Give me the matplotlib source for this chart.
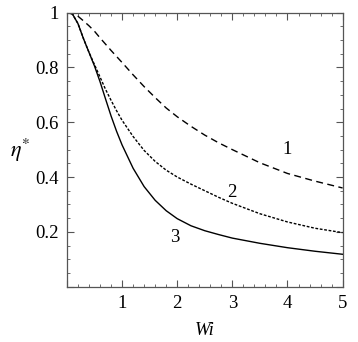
import numpy as np
import matplotlib
matplotlib.use("Agg")
from matplotlib import pyplot as plt
from matplotlib.ticker import MultipleLocator, FuncFormatter

plt.rcParams['font.family'] = ['Liberation Serif', 'DejaVu Serif']
plt.rcParams['mathtext.fontset'] = 'stix'

# values
wi = [0, 0.1, 0.2, 0.3, 0.4, 0.5, 0.6, 0.7, 0.8, 0.9, 1.0, 1.2, 1.4, 1.6, 1.8,
      2.0, 2.25, 2.5, 2.75, 3.0, 3.5, 4.0, 4.5, 5.0]
eta1 = [1.0, 0.997, 0.987, 0.97, 0.952, 0.932, 0.908, 0.885, 0.862, 0.84, 0.818,
        0.773, 0.73, 0.69, 0.652, 0.62, 0.585, 0.553, 0.525, 0.5, 0.452, 0.413, 0.385, 0.36]
eta2 = [1.0, 0.995, 0.96, 0.905, 0.855, 0.81, 0.765, 0.72, 0.68, 0.642, 0.607,
        0.548, 0.497, 0.457, 0.425, 0.40, 0.374, 0.35, 0.326, 0.304, 0.266, 0.236, 0.213, 0.197]
eta3 = [1.0, 0.995, 0.96, 0.905, 0.855, 0.805, 0.748, 0.685, 0.623, 0.567, 0.517,
        0.432, 0.365, 0.315, 0.277, 0.248, 0.222, 0.204, 0.19, 0.177, 0.158, 0.142, 0.129, 0.118]
curve_labels = ['1', '2', '3']
label_pos = [(3.99, 0.50), (2.99, 0.342), (1.96, 0.178)]

fig = plt.figure(figsize=(3.58, 3.42), dpi=100)
ax = fig.add_axes([0.187, 0.162, 0.770, 0.801])

ax.plot(wi, eta1, color='black', lw=1.0, dashes=(5, 3.2))
ax.plot(wi, eta2, color='black', lw=1.0, dashes=(2, 1.2))
ax.plot(wi, eta3, color='black', lw=1.0)

for lab, (x, y) in zip(curve_labels, label_pos):
    ax.text(x, y, lab, fontsize=13.5, ha='center', va='center')

ax.set_xlim(0, 5)
ax.set_ylim(0, 1)
ax.xaxis.set_major_locator(MultipleLocator(1))
ax.xaxis.set_minor_locator(MultipleLocator(0.2))
ax.yaxis.set_major_locator(MultipleLocator(0.2))
ax.yaxis.set_minor_locator(MultipleLocator(0.05))
ax.xaxis.set_major_formatter(FuncFormatter(lambda v, p: '' if v == 0 else '%g' % v))
ax.yaxis.set_major_formatter(FuncFormatter(lambda v, p: '' if v == 0 else '%g' % v))
ax.tick_params(which='both', direction='in', top=True, right=True, color='#555555',
               labelsize=13.5, pad=6)
ax.tick_params(which='major', length=5, width=0.8)
ax.tick_params(which='minor', length=2.5, width=0.6)
for s in ax.spines.values():
    s.set_color('#555555')
    s.set_linewidth(0.9)

fig.text(0.572, 0.035, 'Wi', fontsize=13.5, style='italic', ha='center', va='center')
fig.text(0.058, 0.56, r'$\eta^{*}$', fontsize=16, ha='center', va='center')

plt.savefig('out.png', dpi=100)
